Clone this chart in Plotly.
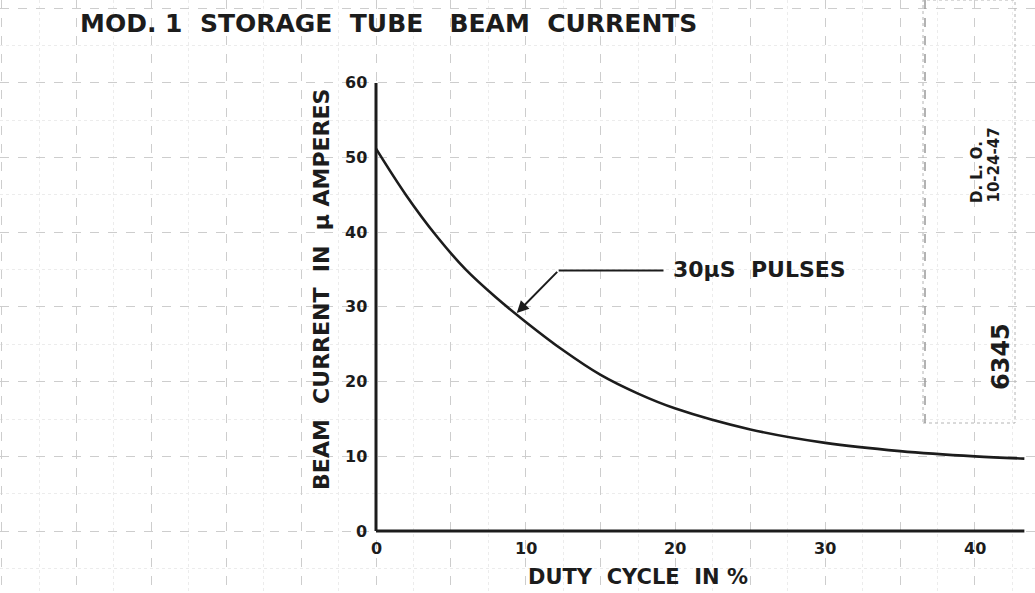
import plotly.graph_objects as go

# Duty cycle (%) and beam current (microamperes) for 30 us pulses
duty_cycle = [0, 2, 4, 6, 8, 10, 12.5, 15, 17.5, 20, 25, 30, 35, 40, 43.3]
beam_current = [51.2, 45.0, 39.6, 35.0, 31.3, 28.0, 24.2, 20.9, 18.4, 16.4, 13.6, 11.8, 10.7, 10.0, 9.7]

x_ticks = [0, 10, 20, 30, 40]
y_ticks = [0, 10, 20, 30, 40, 50, 60]

INK = "#1c1c1c"
FONT = "DejaVu Sans"


def bold(s):
    return "<b>" + s + "</b>"


fig = go.Figure()

fig.add_trace(go.Scatter(
    x=duty_cycle, y=beam_current, mode="lines",
    line=dict(color=INK, width=2.6, shape="spline", smoothing=1.0),
    hoverinfo="skip", showlegend=False,
))

# Axis lines drawn as heavy ink strokes
fig.add_shape(type="line", x0=0, y0=0, x1=43.3, y1=0, line=dict(color=INK, width=3))
fig.add_shape(type="line", x0=0, y0=0, x1=0, y1=60, line=dict(color=INK, width=3))

annotations = []
for t in x_ticks:
    annotations.append(dict(x=t, y=-2.3, text=bold(str(t)), showarrow=False,
                            font=dict(family=FONT, size=16, color=INK),
                            xanchor="center", yanchor="middle"))
for t in y_ticks:
    annotations.append(dict(x=-0.5, y=t, text=bold(str(t)), showarrow=False,
                            font=dict(family=FONT, size=16, color=INK),
                            xanchor="right", yanchor="middle"))

# Axis titles
annotations.append(dict(x=-3.6, y=32.3, text=bold("BEAM  CURRENT  IN  μ AMPERES"), textangle=-90,
                        showarrow=False, font=dict(family=FONT, size=22, color=INK),
                        xanchor="center", yanchor="middle"))
annotations.append(dict(x=10, y=-6.2, text=bold("DUTY  CYCLE  IN %"), showarrow=False,
                        font=dict(family=FONT, size=21, color=INK),
                        xanchor="left", yanchor="middle"))

# Chart title
annotations.append(dict(xref="paper", yref="paper", x=78 / 1035, y=1 - 24 / 593,
                        text=bold("MOD. 1  STORAGE  TUBE   BEAM  CURRENTS"), showarrow=False,
                        font=dict(family=FONT, size=25, color=INK),
                        xanchor="left", yanchor="middle"))

# Curve label with leader
annotations.append(dict(x=19.7, y=35.0, text=bold("30μS  PULSES"), showarrow=False,
                        font=dict(family=FONT, size=22, color=INK),
                        xanchor="left", yanchor="middle"))
fig.add_shape(type="line", x0=12.2, y0=34.9, x1=19.2, y1=34.9, line=dict(color=INK, width=2))
annotations.append(dict(x=9.4, y=29.2, ax=12.2, ay=34.9, axref="x", ayref="y",
                        text="", showarrow=True, arrowhead=2, arrowsize=1.2,
                        arrowwidth=2, arrowcolor=INK))

# Drawing stamp block on the right
annotations.append(dict(xref="paper", yref="paper", x=977 / 1035, y=1 - 205 / 593,
                        text=bold("D. L. O."), textangle=-90, showarrow=False,
                        font=dict(family=FONT, size=15, color=INK),
                        xanchor="center", yanchor="bottom"))
annotations.append(dict(xref="paper", yref="paper", x=994 / 1035, y=1 - 205 / 593,
                        text=bold("10-24-47"), textangle=-90, showarrow=False,
                        font=dict(family=FONT, size=15, color=INK),
                        xanchor="center", yanchor="bottom"))
annotations.append(dict(xref="paper", yref="paper", x=1001 / 1035, y=1 - 357 / 593,
                        text=bold("6345"), textangle=-90, showarrow=False,
                        font=dict(family=FONT, size=24, color=INK),
                        xanchor="center", yanchor="middle"))
fig.add_shape(type="rect", xref="paper", yref="paper",
              x0=923 / 1035, x1=1015 / 1035, y0=1 - 423 / 593, y1=1.0,
              line=dict(color="#b4b4b4", width=1, dash="dot"))
fig.add_shape(type="line", xref="paper", yref="paper",
              x0=925 / 1035, x1=925 / 1035, y0=1 - 423 / 593, y1=1.0,
              line=dict(color="#9a9a9a", width=1.5, dash="dash"))

fig.update_layout(
    width=1035, height=593,
    margin=dict(l=0, r=0, t=0, b=0),
    paper_bgcolor="white", plot_bgcolor="white",
    annotations=annotations,
    showlegend=False,
    xaxis=dict(range=[-25.11, 44.01], showticklabels=False, ticks="",
               zeroline=False, showline=False, fixedrange=True,
               showgrid=True, tick0=0, dtick=5, gridcolor="#cdcdcd",
               gridwidth=1, griddash="dash",
               minor=dict(showgrid=True, tick0=0, dtick=2.5, gridcolor="#ececec",
                          griddash="dot", gridwidth=1)),
    yaxis=dict(range=[-8.30, 71.11], showticklabels=False, ticks="",
               zeroline=False, showline=False, fixedrange=True,
               showgrid=True, tick0=0, dtick=10, gridcolor="#cdcdcd",
               gridwidth=1, griddash="dash",
               minor=dict(showgrid=True, tick0=0, dtick=5, gridcolor="#ececec",
                          griddash="dot", gridwidth=1)),
)

fig.write_html("out.html")
